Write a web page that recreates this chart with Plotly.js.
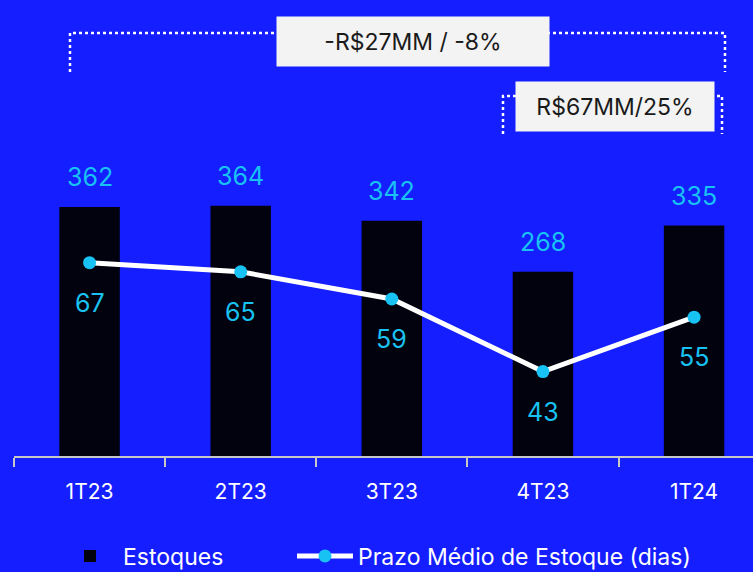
<!DOCTYPE html>
<html>
<head>
<meta charset="utf-8">
<script src="https://cdn.plot.ly/plotly-3.0.1.min.js"></script>
<style>
html, body { margin: 0; padding: 0; background: #141EFF; }
#chart { width: 753px; height: 572px; }
</style>
</head>
<body>
<div id="chart"></div>
<script>
var quarters = ["1T23", "2T23", "3T23", "4T23", "1T24"]
var estoques = [362, 364, 342, 268, 335]
var prazoMedio = [67, 65, 59, 43, 55]

var bg = "#141EFF"
var cyan = "#18C2F2"
var font = "Inter, 'Open Sans', sans-serif"

// plot area in pixels: x 14..753, y 0..456
function px(x) { return (x - 14) / 739 }
function py(y) { return (456 - y) / 456 }

var bars = {
    name: "Estoques",
    type: "bar",
    x: quarters,
    y: estoques,
    width: 0.4,
    marker: { color: "#02020E" },
    legend: "legend",
    hoverinfo: "x+y"
}

var line = {
    name: "Prazo Médio de Estoque (dias)",
    type: "scatter",
    mode: "lines+markers",
    x: quarters,
    y: prazoMedio,
    yaxis: "y2",
    line: { color: "white", width: 5 },
    marker: { color: cyan, size: 13 },
    legend: "legend2",
    hoverinfo: "x+y"
}

var annotations = []
for (var i in quarters) {
    annotations.push({
        x: quarters[i], y: estoques[i], xref: "x", yref: "y",
        text: String(estoques[i]), showarrow: false, yshift: 30,
        font: { family: font, size: 25, color: cyan }
    })
    annotations.push({
        x: quarters[i], y: prazoMedio[i], xref: "x", yref: "y2",
        text: String(prazoMedio[i]), showarrow: false, yshift: -40,
        font: { family: font, size: 25, color: cyan }
    })
}
annotations.push({
    x: px(413), y: py(41.5), xref: "paper", yref: "paper",
    xanchor: "center", yanchor: "middle",
    text: "-R$27MM / -8%", showarrow: false,
    width: 272, height: 49, borderpad: 0,
    bgcolor: "#F3F3F3",
    font: { family: font, size: 23, color: "#1a1a1a" }
})
annotations.push({
    x: px(615), y: py(106.5), xref: "paper", yref: "paper",
    xanchor: "center", yanchor: "middle",
    text: "R$67MM/25%", showarrow: false,
    width: 198, height: 49, borderpad: 0,
    bgcolor: "#F3F3F3",
    font: { family: font, size: 23, color: "#1a1a1a" }
})

var dotted = { color: "white", width: 2.5, dash: "dot" }
var shapes = [
    { type: "path", xref: "paper", yref: "paper", line: dotted, layer: "below",
      path: "M" + px(70) + "," + py(72) + " L" + px(70) + "," + py(33) +
            " L" + px(725) + "," + py(33) + " L" + px(725) + "," + py(72) },
    { type: "path", xref: "paper", yref: "paper", line: dotted, layer: "below",
      path: "M" + px(503) + "," + py(134) + " L" + px(503) + "," + py(96) +
            " L" + px(722) + "," + py(96) + " L" + px(722) + "," + py(134) }
]

var legendStyle = function(x) {
    return {
        orientation: "h",
        x: px(x), y: py(556), xanchor: "left", yanchor: "middle",
        font: { family: font, size: 23, color: "white" },
        bgcolor: "rgba(0,0,0,0)",
        itemwidth: 56
    }
}

var layout = {
    width: 753,
    height: 572,
    margin: { l: 14, r: 0, t: 0, b: 116, autoexpand: false },
    paper_bgcolor: bg,
    plot_bgcolor: bg,
    font: { family: font, color: "white" },
    showlegend: true,
    legend: legendStyle(57),
    legend2: legendStyle(292),
    xaxis: {
        type: "category",
        range: [-0.5, 4.39],
        showline: true,
        linecolor: "#C8C8C8",
        linewidth: 2,
        ticks: "outside",
        tickson: "boundaries",
        ticklen: 9,
        tickwidth: 2,
        tickcolor: "#C8C8C8",
        showgrid: false,
        ticklabelstandoff: 16,
        tickfont: { family: font, size: 21, color: "white" },
        automargin: false,
        fixedrange: true
    },
    yaxis: {
        range: [0, 663],
        visible: false,
        showgrid: false,
        zeroline: false,
        fixedrange: true
    },
    yaxis2: {
        range: [24.4, 124.9],
        overlaying: "y",
        side: "right",
        visible: false,
        showgrid: false,
        zeroline: false,
        fixedrange: true
    },
    annotations: annotations,
    shapes: shapes
}

Plotly.newPlot("chart", [bars, line], layout, { displayModeBar: false, responsive: false })
</script>
</body>
</html>
